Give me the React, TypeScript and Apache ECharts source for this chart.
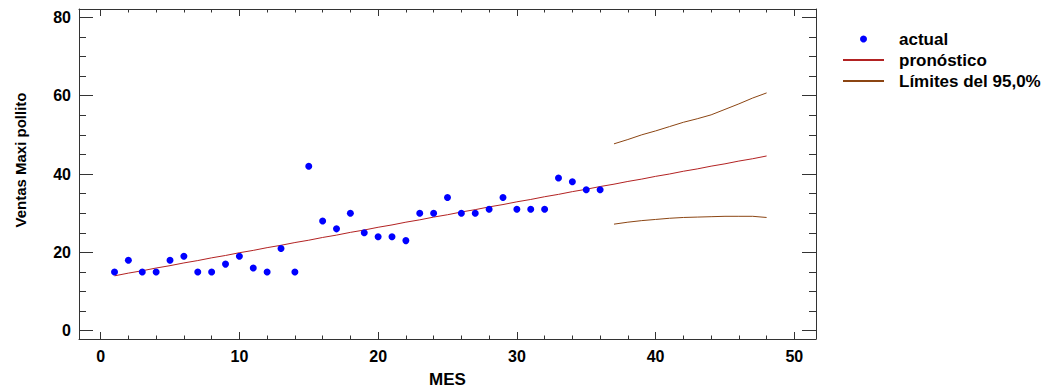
import React, { useEffect, useRef } from "react";
import * as echarts from "echarts";

// Observed monthly sales
const mesActual = [1, 2, 3, 4, 5, 6, 7, 8, 9, 10, 11, 12, 13, 14, 15, 16, 17, 18, 19, 20, 21, 22, 23, 24, 25, 26, 27, 28, 29, 30, 31, 32, 33, 34, 35, 36];
const ventas = [15, 18, 15, 15, 18, 19, 15, 15, 17, 19, 16, 15, 21, 15, 42, 28, 26, 30, 25, 24, 24, 23, 30, 30, 34, 30, 30, 31, 34, 31, 31, 31, 39, 38, 36, 36];

// Fitted values and forecast
const mesPronostico = [1, 2, 3, 4, 5, 6, 7, 8, 9, 10, 11, 12, 13, 14, 15, 16, 17, 18, 19, 20, 21, 22, 23, 24, 25, 26, 27, 28, 29, 30, 31, 32, 33, 34, 35, 36, 37, 38, 39, 40, 41, 42, 43, 44, 45, 46, 47, 48];
const pronostico = [14.0, 14.7, 15.3, 16.0, 16.6, 17.3, 17.9, 18.6, 19.2, 19.9, 20.5, 21.2, 21.8, 22.5, 23.1, 23.8, 24.4, 25.1, 25.7, 26.4, 27.0, 27.7, 28.3, 29.0, 29.6, 30.3, 30.9, 31.6, 32.2, 32.9, 33.5, 34.2, 34.8, 35.5, 36.1, 36.8, 37.4, 38.1, 38.7, 39.4, 40.0, 40.7, 41.3, 42.0, 42.6, 43.3, 43.9, 44.6];

// 95% forecast limits
const mesLimites = [37, 38, 39, 40, 41, 42, 43, 44, 45, 46, 47, 48];
const limiteSuperior = [47.7, 48.8, 50.0, 51.0, 52.1, 53.2, 54.1, 55.1, 56.5, 57.9, 59.4, 60.7];
const limiteInferior = [27.2, 27.7, 28.1, 28.4, 28.7, 28.9, 29.0, 29.1, 29.2, 29.2, 29.2, 28.9];

// Axis ticks
const xMajorTicks = [0, 10, 20, 30, 40, 50];
const xMinorTicks = [0, 2, 4, 6, 8, 10, 12, 14, 16, 18, 20, 22, 24, 26, 28, 30, 32, 34, 36, 38, 40, 42, 44, 46, 48, 50];
const yMajorTicks = [0, 20, 40, 60, 80];
const yMinorTicks = [0, 5, 10, 15, 20, 25, 30, 35, 40, 45, 50, 55, 60, 65, 70, 75, 80];

const FONT = '"Liberation Sans", Arial, Helvetica, sans-serif';
const X_MIN = -1.56;
const X_MAX = 51.56;
const Y_MIN = -2.12;
const Y_MAX = 82.12;
const LINE_COLOR = "#333";
const RED = "#b22222";
const BROWN = "#8b4513";

const zip = (xs: number[], ys: number[]) => xs.map((x, i) => [x, ys[i]]);

function xAxisDef(position: "top" | "bottom", ticks: number[], len: number, labels: boolean, showLine: boolean) {
  return {
    type: "value",
    position,
    min: X_MIN,
    max: X_MAX,
    axisLine: { show: showLine, onZero: false, lineStyle: { color: LINE_COLOR, width: 1 } },
    axisTick: { show: true, inside: true, length: len, customValues: ticks, lineStyle: { color: LINE_COLOR, width: 1 } },
    axisLabel: labels
      ? { show: true, customValues: ticks, margin: 9, color: "#000", fontFamily: FONT, fontWeight: "bold", fontSize: 16 }
      : { show: false },
    splitLine: { show: false },
  };
}

function yAxisDef(position: "left" | "right", ticks: number[], len: number, labels: boolean, showLine: boolean) {
  return {
    type: "value",
    position,
    min: Y_MIN,
    max: Y_MAX,
    axisLine: { show: showLine, onZero: false, lineStyle: { color: LINE_COLOR, width: 1 } },
    axisTick: { show: true, inside: true, length: len, customValues: ticks, lineStyle: { color: LINE_COLOR, width: 1 } },
    axisLabel: labels
      ? { show: true, customValues: ticks, margin: 8, color: "#000", fontFamily: FONT, fontWeight: "bold", fontSize: 16 }
      : { show: false },
    splitLine: { show: false },
  };
}

export default function App() {
  const ref = useRef<HTMLDivElement>(null);

  useEffect(() => {
    if (!ref.current) return;
    const chart = echarts.init(ref.current, null, { renderer: "svg" });
    chart.setOption({
      animation: false,
      backgroundColor: "#fff",
      grid: { left: 79, top: 9, right: 232, bottom: 51, containLabel: false },
      xAxis: [
        xAxisDef("bottom", xMajorTicks, 7, true, true),
        xAxisDef("bottom", xMinorTicks, 3.5, false, false),
        xAxisDef("top", xMajorTicks, 7, false, true),
        xAxisDef("top", xMinorTicks, 3.5, false, false),
      ],
      yAxis: [
        yAxisDef("left", yMajorTicks, 14, true, true),
        yAxisDef("left", yMinorTicks, 7, false, false),
        yAxisDef("right", yMajorTicks, 14, false, true),
        yAxisDef("right", yMinorTicks, 7, false, false),
      ],
      legend: {
        orient: "vertical",
        left: 837,
        top: 23.5,
        itemWidth: 41,
        itemHeight: 7,
        itemGap: 0,
        selectedMode: false,
        data: [
          { name: "actual" },
          { name: "pronóstico", itemStyle: { opacity: 0, borderWidth: 0 } },
          { name: "Límites del 95,0%", itemStyle: { opacity: 0, borderWidth: 0 } },
        ],
        textStyle: {
          color: "#000",
          fontFamily: FONT,
          fontWeight: "bold",
          fontSize: 17,
          lineHeight: 21,
          padding: [0, 0, 0, 10],
        },
      },
      graphic: [
        {
          type: "text",
          x: 20,
          y: 160,
          rotation: Math.PI / 2,
          style: {
            text: "Ventas Maxi pollito",
            fill: "#000",
            font: `bold 15px ${FONT}`,
            align: "center",
            verticalAlign: "middle",
          },
        },
        {
          type: "text",
          x: 447.5,
          y: 379,
          style: {
            text: "MES",
            fill: "#000",
            font: `bold 17px ${FONT}`,
            align: "center",
            verticalAlign: "middle",
          },
        },
      ],
      series: [
        {
          name: "actual",
          type: "scatter",
          xAxisIndex: 0,
          yAxisIndex: 0,
          symbol: "circle",
          symbolSize: 7,
          itemStyle: { color: "#0000ff", opacity: 1 },
          data: zip(mesActual, ventas),
          z: 3,
        },
        {
          name: "pronóstico",
          type: "line",
          xAxisIndex: 0,
          yAxisIndex: 0,
          symbol: "none",
          lineStyle: { color: RED, width: 1 },
          itemStyle: { color: RED },
          data: zip(mesPronostico, pronostico),
          z: 2,
        },
        {
          name: "Límites del 95,0%",
          type: "line",
          xAxisIndex: 0,
          yAxisIndex: 0,
          symbol: "none",
          lineStyle: { color: BROWN, width: 1 },
          itemStyle: { color: BROWN },
          data: zip(mesLimites, limiteSuperior),
          z: 2,
        },
        {
          name: "Límites del 95,0%",
          type: "line",
          xAxisIndex: 0,
          yAxisIndex: 0,
          symbol: "none",
          lineStyle: { color: BROWN, width: 1 },
          itemStyle: { color: BROWN },
          data: zip(mesLimites, limiteInferior),
          z: 2,
        },
      ],
    });
    return () => chart.dispose();
  }, []);

  return (
    <div
      ref={ref}
      style={{ position: "absolute", left: 0, top: 0, width: 1048, height: 390, background: "#fff" }}
    />
  );
}
